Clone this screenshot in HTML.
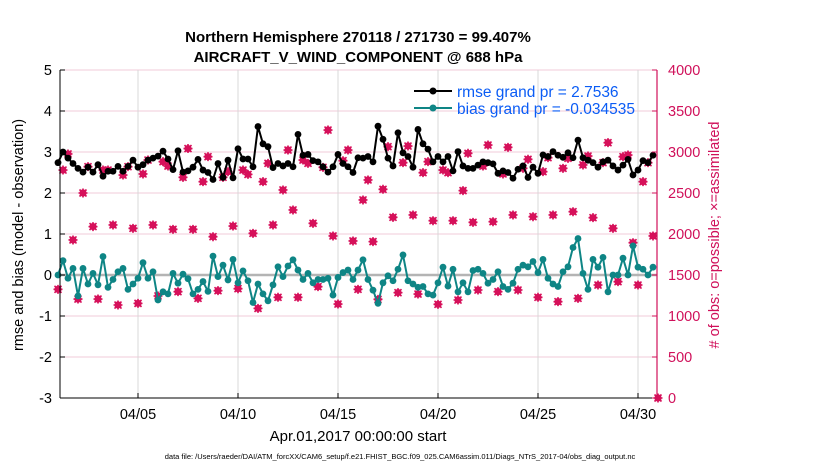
<!DOCTYPE html>
<html><head><meta charset="utf-8"><style>
html,body{margin:0;padding:0;background:#fff;}
svg{display:block;font-family:"Liberation Sans",sans-serif;}
</style></head><body>
<svg id="chart" width="830" height="470" viewBox="0 0 830 470" xmlns="http://www.w3.org/2000/svg">
<g font-weight="bold" font-size="15" text-anchor="middle" fill="#000">
<text x="358" y="42">Northern Hemisphere 270118 / 271730 = 99.407%</text>
<text x="358" y="62">AIRCRAFT_V_WIND_COMPONENT @ 688 hPa</text>
</g>
<g id="grid"></g>
<g id="series"></g>
<g id="axes"></g>
<g>
<line x1="414" y1="91" x2="452" y2="91" stroke="#000" stroke-width="2"/>
<circle cx="433" cy="91" r="3.5" fill="#000"/>
<text x="457" y="97" font-size="15.5" fill="#0a5cf5">rmse grand pr = 2.7536</text>
<line x1="414" y1="108" x2="452" y2="108" stroke="#0e8585" stroke-width="2"/>
<circle cx="433" cy="108" r="3.5" fill="#0e8585"/>
<text x="457" y="114" font-size="15.5" fill="#0a5cf5">bias grand pr = -0.034535</text>
</g>
<text transform="translate(23,235) rotate(-90)" text-anchor="middle" font-size="14.5" fill="#000">rmse and bias (model - observation)</text>
<text transform="translate(719,235) rotate(-90)" text-anchor="middle" font-size="14.5" fill="#d0105a">
# of obs: o=possible; ×=assimilated</text>
<text x="358" y="441" text-anchor="middle" font-size="15" fill="#000">Apr.01,2017 00:00:00 start</text>
<text x="400" y="459" text-anchor="middle" font-size="7.5" fill="#000">data file: /Users/raeder/DAI/ATM_forcXX/CAM6_setup/f.e21.FHIST_BGC.f09_025.CAM6assim.011/Diags_NTrS_2017-04/obs_diag_output.nc</text>
</svg>
<script>
const rmseVals=[2.74,3.0,2.85,2.72,2.6,2.51,2.63,2.51,2.69,2.41,2.53,2.53,2.65,2.53,2.65,2.8,2.63,2.69,2.8,2.85,2.9,3.02,2.83,2.57,3.03,2.51,2.54,2.63,2.82,2.56,2.5,2.33,2.72,2.38,2.8,2.37,3.08,2.83,2.83,2.64,3.62,3.2,3.13,2.62,2.72,2.66,2.72,2.64,3.43,2.92,2.94,2.79,2.76,2.64,2.51,2.64,2.94,2.72,2.64,2.5,2.86,2.85,
2.89,2.76,3.63,3.31,2.85,2.66,3.47,2.98,2.89,2.63,3.55,3.2,3.07,2.76,2.89,2.76,2.89,2.54,3.01,2.66,2.6,2.6,2.68,2.76,2.74,2.71,2.48,2.54,2.5,2.36,2.58,2.66,2.38,2.63,2.48,2.93,2.89,3.01,2.92,2.87,2.98,2.86,3.29,2.86,2.8,2.74,2.63,2.76,2.8,2.66,2.56,2.68,2.82,2.44,2.56,2.79,2.74,2.92];
const biasVals=[0,0.35,-0.08,0.16,-0.51,0.16,-0.22,0.04,-0.24,0.45,-0.3,-0.11,0.08,0.16,-0.35,-0.22,-0.08,0.3,-0.08,0.08,-0.61,-0.41,-0.46,0.04,-0.2,0.02,-0.09,-0.46,-0.35,-0.16,-0.4,0.46,-0.04,0.24,-0.12,0.38,-0.19,0.1,-0.14,-0.67,-0.22,-0.46,-0.63,-0.24,0.2,-0.04,0.22,0.37,0.12,-0.11,0.04,-0.19,-0.11,-0.11,-0.08,-0.49,-0.06,0.06,0.12,-0.11,0.12,0.37,
-0.11,-0.37,-0.69,-0.19,-0.02,-0.14,0.14,0.49,-0.14,-0.22,-0.3,-0.28,-0.46,-0.49,-0.19,0.19,-0.27,0.14,-0.41,-0.19,-0.41,0.11,0.14,0.04,-0.2,-0.11,0.08,-0.28,-0.35,-0.2,0.14,0.24,0.2,0.33,0.06,0.38,-0.08,-0.22,-0.28,0.08,0.2,0.67,0.89,0.04,-0.35,0.38,0.19,0.43,-0.41,0,0,0.41,0,0.71,0.19,0.14,0,0.19];
const obsUsed=[1325,2780,2976,1927,1207,2500,2821,2090,1207,2780,2780,2110,1134,2719,2821,2069,1154,2732,2902,2110,1244,2882,2829,2057,1297,2691,3042,2057,1215,2638,2943,1967,1309,2691,2760,2097,1333,2780,2727,2008,1093,2638,2862,2110,1228,2537,3024,2293,1228,2902,2862,2130,1358,2813,3268,1976,1146,2894,3024,1915,1325,2415,
2659,1907,1203,2545,3065,2203,1285,2870,3073,2232,1268,2748,2882,2162,1142,2780,2748,2162,1195,2529,2984,2142,1317,2829,3085,2150,1297,2732,3057,2232,1317,2801,2911,2211,1228,2760,2931,2232,1175,2801,2923,2272,1215,2842,2951,2199,1378,2870,3114,2069,1419,2943,2963,1894,1378,2638,2870,1976,0];
const obsPossible=obsUsed;
const leftTicks=[-3,-2,-1,0,1,2,3,4,5];
const rightTicks=[0,500,1000,1500,2000,2500,3000,3500,4000];
const dateTicks=[4,9,14,19,24,29];
const dateLabels=["04/05","04/10","04/15","04/20","04/25","04/30"];
const stepDays=0.25;

const NS="http://www.w3.org/2000/svg";
const L=60,R=657,T=70,B=398;
const x=t=>58+t*20;
const yL=v=>B-(v+3)/8*(B-T);
const yR=v=>B-v/4000*(B-T);
function mk(tag,attrs,parent){const e=document.createElementNS(NS,tag);for(const k in attrs)e.setAttribute(k,attrs[k]);parent.appendChild(e);return e;}
const grid=document.getElementById('grid'),ser=document.getElementById('series'),ax=document.getElementById('axes');

leftTicks.forEach(v=>{const l=mk('line',{x1:L,x2:R,y1:yL(v),y2:yL(v),stroke:'#f2cbd9','stroke-width':1},grid);

});
dateTicks.forEach(d=>{const l=mk('line',{x1:x(d),x2:x(d),y1:T,y2:B,stroke:'#d8d8d8','stroke-width':1},grid);

});
const zl=mk('line',{x1:L,x2:R,y1:yL(0),y2:yL(0),stroke:'#b4b4b4','stroke-width':2.5},grid);



// counts
obsUsed.forEach((v,i)=>{const cx=x(i*stepDays),cy=yR(v);
const g=mk('g',{stroke:'#d6105a','stroke-width':1.6,fill:'none'},ser);


mk('circle',{cx:cx,cy:yR(obsPossible[i]),r:2.8},g);
mk('path',{d:`M${cx-3.5},${cy-3.5}L${cx+3.5},${cy+3.5}M${cx-3.5},${cy+3.5}L${cx+3.5},${cy-3.5}M${cx-4.5},${cy}L${cx+4.5},${cy}M${cx},${cy-4.5}L${cx},${cy+4.5}`},g);});

function line(vals,color,name){
const pts=vals.map((v,i)=>x(i*stepDays).toFixed(1)+','+yL(v).toFixed(1)).join(' ');
const p=mk('polyline',{points:pts,fill:'none',stroke:color,'stroke-width':2,'stroke-linejoin':'round'},ser);


vals.forEach((v,i)=>{const c=mk('circle',{cx:x(i*stepDays),cy:yL(v),r:3.4,fill:color},ser);

});}
line(biasVals,'#0e8585','bias');
line(rmseVals,'#000','rmse');

// axes
const a1=mk('line',{x1:L,x2:L,y1:T,y2:B,stroke:'#000','stroke-width':1},ax);


const a2=mk('line',{x1:R,x2:R,y1:T,y2:B,stroke:'#d0105a','stroke-width':1.2},ax);


const a3=mk('line',{x1:L,x2:R,y1:B,y2:B,stroke:'#000','stroke-width':1},ax);


leftTicks.forEach(v=>{mk('line',{x1:L,x2:L+5,y1:yL(v),y2:yL(v),stroke:'#000'},ax);
const t=mk('text',{x:L-8,y:yL(v)+5,'text-anchor':'end','font-size':14.5,fill:'#000'},ax);t.textContent=v;

});
rightTicks.forEach(v=>{mk('line',{x1:R-5,x2:R,y1:yR(v),y2:yR(v),stroke:'#d0105a'},ax);
const t=mk('text',{x:R+11,y:yR(v)+5,'text-anchor':'start','font-size':14.5,fill:'#d0105a'},ax);t.textContent=v;

});
dateTicks.forEach((d,i)=>{mk('line',{x1:x(d),x2:x(d),y1:B,y2:B-5,stroke:'#000'},ax);
const t=mk('text',{x:x(d),y:419,'text-anchor':'middle','font-size':14.5,fill:'#000'},ax);t.textContent=dateLabels[i];

});
</script>
</body></html>
